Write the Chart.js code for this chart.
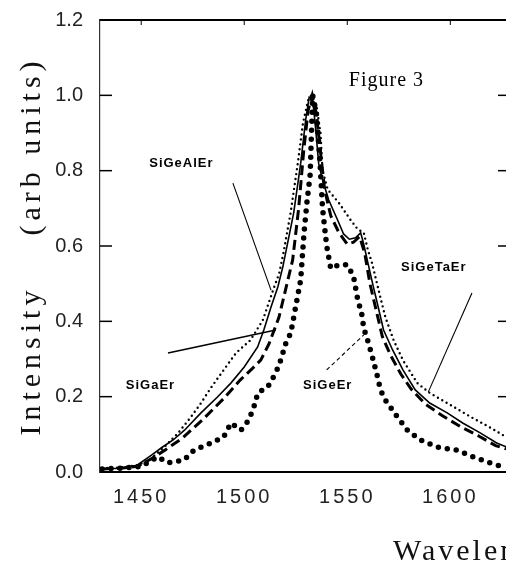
<!DOCTYPE html>
<html>
<head>
<meta charset="utf-8">
<script src="https://cdn.jsdelivr.net/npm/chart.js@4.4.1/dist/chart.umd.min.js"></script>
<style>
  html, body { margin: 0; padding: 0; background: #fff; overflow: hidden; }
  #wrap { width: 520px; height: 572px; }
</style>
</head>
<body>
<div id="wrap"><canvas id="myChart" width="520" height="572"></canvas></div>
<script>
// wavelength (nm) and intensity
const taWl  = [1431, 1440, 1448, 1454, 1461, 1468, 1474, 1479, 1484, 1489, 1496, 1503, 1509, 1514, 1517, 1519, 1522.5, 1526, 1528.5, 1531, 1532.5, 1535, 1537, 1538, 1540.5, 1546, 1551.5, 1555, 1558, 1560, 1562, 1566, 1568.5, 1572.5, 1577, 1584, 1590, 1598.5, 1610, 1619, 1628];
const taInt = [0.010, 0.012, 0.018, 0.032, 0.065, 0.104, 0.145, 0.183, 0.225, 0.263, 0.316, 0.350, 0.403, 0.483, 0.528, 0.581, 0.688, 0.820, 0.926, 0.987, 1.0, 0.975, 0.90, 0.80, 0.75, 0.714, 0.67, 0.645, 0.635, 0.59, 0.555, 0.465, 0.411, 0.350, 0.297, 0.236, 0.210, 0.183, 0.146, 0.119, 0.09];

const alWl  = [1431, 1440, 1448, 1455, 1460, 1465.5, 1471, 1479, 1487, 1493.5, 1500, 1506.5, 1509.5, 1513, 1516.3, 1518.7, 1524, 1527.4, 1529.8, 1531.5, 1533.2, 1534.7, 1536.1, 1538, 1541, 1545.3, 1548.2, 1551, 1554, 1556.5, 1558, 1560, 1562.7, 1565, 1567.6, 1572, 1577, 1583, 1590, 1598.5, 1606, 1614.5, 1622.5, 1628];
const alInt = [0.008, 0.010, 0.018, 0.045, 0.065, 0.085, 0.111, 0.157, 0.199, 0.236, 0.279, 0.332, 0.377, 0.438, 0.491, 0.544, 0.688, 0.820, 0.934, 0.995, 0.99, 0.908, 0.820, 0.775, 0.722, 0.669, 0.632, 0.618, 0.622, 0.635, 0.605, 0.555, 0.491, 0.438, 0.377, 0.324, 0.271, 0.218, 0.183, 0.157, 0.130, 0.104, 0.077, 0.065];

const gaWl  = [1431, 1440, 1448, 1455, 1462, 1470, 1480, 1490, 1498, 1504, 1508, 1512, 1516.8, 1519, 1523.5, 1526.4, 1528.9, 1531, 1533, 1535, 1537, 1539, 1542, 1546, 1550, 1553, 1556, 1558.5, 1561, 1564, 1567, 1571, 1576, 1581, 1588, 1596, 1605, 1614, 1622, 1628];
const gaInt = [0.008, 0.010, 0.015, 0.035, 0.06, 0.09, 0.14, 0.195, 0.244, 0.275, 0.297, 0.34, 0.41, 0.46, 0.563, 0.70, 0.855, 0.96, 1.0, 0.95, 0.85, 0.75, 0.68, 0.635, 0.605, 0.61, 0.625, 0.58, 0.50, 0.43, 0.36, 0.31, 0.26, 0.22, 0.18, 0.15, 0.12, 0.095, 0.07, 0.06];

const geWl  = [1431, 1440, 1450, 1458, 1463, 1470.8, 1475.6, 1484, 1490, 1493.5, 1498.4, 1502.2, 1504.7, 1506.6, 1511.4, 1515.3, 1517.7, 1520.2, 1522.6, 1525, 1527.4, 1529, 1530.5, 1532, 1533.2, 1535, 1536.5, 1538, 1540, 1542, 1546, 1550, 1553, 1555, 1557, 1558, 1560.3, 1562.2, 1564.7, 1566.1, 1568.5, 1574.3, 1579.2, 1585.5, 1593.7, 1603.4, 1611, 1619.3, 1626];
const geInt = [0.008, 0.010, 0.015, 0.040, 0.024, 0.032, 0.058, 0.077, 0.093, 0.130, 0.111, 0.138, 0.173, 0.210, 0.226, 0.263, 0.297, 0.342, 0.369, 0.44, 0.510, 0.634, 0.72, 0.79, 1.0, 0.953, 0.847, 0.70, 0.60, 0.54, 0.55, 0.55, 0.52, 0.46, 0.42, 0.382, 0.342, 0.305, 0.252, 0.218, 0.191, 0.146, 0.111, 0.085, 0.066, 0.058, 0.040, 0.024, 0.013];

const xTicks = [1450, 1500, 1550, 1600];
const yTicks = [0, 0.2, 0.4, 0.6, 0.8, 1.0, 1.2];

// texts written on the plot (data coordinates of their centre)
const noteText = ['Figure 3', 'SiGeAlEr', 'SiGaEr', 'SiGeEr', 'SiGeTaEr'];
const noteX = [1569, 1469.5, 1454.5, 1540.5, 1592];
const noteY = [1.04, 0.82, 0.231, 0.231, 0.542];
// leader lines from the sample names to their curves
const leadX1 = [1494.5, 1463, 1540, 1610.5];
const leadY1 = [0.767, 0.316, 0.271, 0.475];
const leadX2 = [1513, 1515.3, 1558, 1589.3];
const leadY2 = [0.483, 0.377, 0.364, 0.212];

function toPts(wl, it) {
    return wl.map((w, i) => ({ x: w, y: it[i] }));
}

// letter spacing for the scanned look (y title, x tick labels)
const spacing = {
    id: 'spacing',
    afterLayout(chart) {
        [[chart.scales.y, 'drawTitle', '5px'], [chart.scales.x, 'drawLabels', '3px']].forEach(([s, m, ls]) => {
            if (s['_orig_' + m]) return;
            const orig = s[m];
            s['_orig_' + m] = orig;
            s[m] = function (...args) {
                const c = this.ctx;
                c.save();
                c.letterSpacing = ls;
                orig.apply(this, args);
                c.restore();
            };
        });
    }
};

// frame top, inward ticks, leader lines and notes
const notes = {
    id: 'notes',
    afterDatasetsDraw(chart) {
        const { ctx, chartArea: a, scales: { x, y } } = chart;
        const line = (x1, y1, x2, y2) => { ctx.beginPath(); ctx.moveTo(x1, y1); ctx.lineTo(x2, y2); ctx.stroke(); };
        ctx.save();
        ctx.strokeStyle = '#000';
        ctx.lineWidth = 2;
        line(a.left, a.top, a.right, a.top);
        ctx.lineWidth = 1.5;
        yTicks.forEach(v => {
            if (v <= y.min || v >= y.max) return;
            const py = y.getPixelForValue(v);
            line(a.left, py, a.left + 12, py);
            line(a.right - 10, py, a.right, py);
        });
        ctx.lineWidth = 1;
        xTicks.forEach(v => {
            const px = x.getPixelForValue(v);
            line(px, a.top, px, a.top + 5);
        });

        // leaders
        leadX1.forEach((v, i) => {
            ctx.lineWidth = i === 1 ? 1.6 : 1.1;
            ctx.setLineDash(i === 2 ? [4, 3] : []);
            line(x.getPixelForValue(v), y.getPixelForValue(leadY1[i]),
                 x.getPixelForValue(leadX2[i]), y.getPixelForValue(leadY2[i]));
        });
        ctx.setLineDash([]);

        // notes
        ctx.fillStyle = '#000';
        ctx.textAlign = 'center';
        ctx.textBaseline = 'middle';
        noteText.forEach((t, i) => {
            if (i === 0) {
                ctx.font = '20px "Liberation Serif", serif';
            } else {
                ctx.font = 'bold 13px "Liberation Sans", Arial, sans-serif';
            }
            ctx.letterSpacing = '1px';
            ctx.fillText(t, x.getPixelForValue(noteX[i]), y.getPixelForValue(noteY[i]));
        });

        // x axis title (cut off by the right edge like the scan)
        ctx.font = '30px "Liberation Serif", serif';
        ctx.letterSpacing = '3px';
        ctx.textAlign = 'left';
        ctx.textBaseline = 'alphabetic';
        ctx.fillStyle = '#111';
        ctx.fillText('Wavelength (nm)', x.getPixelForValue(1572.2), a.bottom + 88);
        ctx.restore();
    }
};

const tickFont = { family: '"Liberation Sans", Arial, sans-serif', size: 20 };

new Chart(document.getElementById('myChart'), {
    type: 'line',
    data: {
        datasets: [
            { label: 'SiGeTaEr', data: toPts(taWl, taInt), borderColor: '#000', borderWidth: 2.4, borderDash: [0, 5], borderCapStyle: 'round' },
            { label: 'SiGeAlEr', data: toPts(alWl, alInt), borderColor: '#000', borderWidth: 1.6 },
            { label: 'SiGaEr', data: toPts(gaWl, gaInt), borderColor: '#000', borderWidth: 3, borderDash: [10, 5] },
            { label: 'SiGeEr', data: toPts(geWl, geInt), borderColor: '#000', borderWidth: 5.5, borderDash: [0, 9], borderCapStyle: 'round' }
        ]
    },
    options: {
        responsive: false,
        animation: false,
        layout: { padding: { top: 20, right: 12, bottom: 0, left: 0 } },
        elements: { point: { radius: 0 }, line: { tension: 0, fill: false } },
        plugins: { legend: { display: false }, tooltip: { enabled: false } },
        scales: {
            x: {
                type: 'linear', min: 1430, max: 1628,
                afterBuildTicks: s => { s.ticks = xTicks.map(v => ({ value: v })); },
                afterFit: s => { s.height = 100; s.paddingLeft = 0; s.paddingRight = 0; },
                grid: { display: false, drawTicks: false },
                border: { display: true, color: '#000', width: 2 },
                ticks: { padding: 13, color: '#222', font: tickFont, maxRotation: 0, autoSkip: false, callback: v => String(v) }
            },
            y: {
                type: 'linear', min: 0, max: 1.2,
                afterBuildTicks: s => { s.ticks = yTicks.map(v => ({ value: v })); },
                afterFit: s => { s.width = 100; s.paddingTop = 0; s.paddingBottom = 0; },
                grid: { display: false, drawTicks: false },
                border: { display: true, color: '#333', width: 1.2, dash: [7, 2] },
                ticks: { padding: 17, color: '#222', font: tickFont, callback: v => v.toFixed(1) },
                title: {
                    display: true,
                    text: 'Intensity\u00a0\u00a0\u00a0\u00a0(arb units)',
                    color: '#111',
                    font: { family: '"Liberation Serif", serif', size: 30 },
                    padding: { top: 14, bottom: 0 }
                }
            }
        }
    },
    plugins: [spacing, notes]
});
</script>
</body>
</html>
